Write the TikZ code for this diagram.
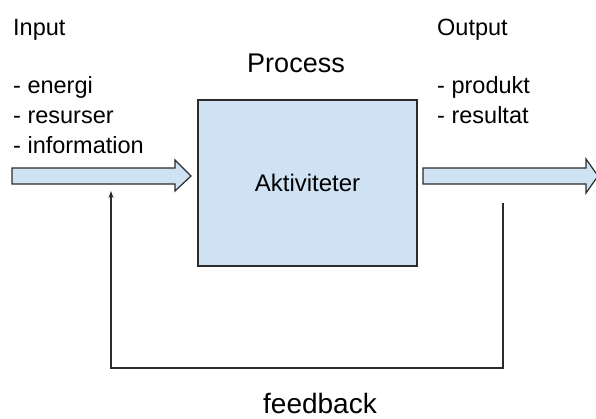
\documentclass[tikz,border=0pt]{standalone}
\usepackage{fontspec}
\setmainfont{Liberation Sans}
\usepackage{tikz}
\usetikzlibrary{positioning, arrows.meta}

\definecolor{boxblue}{HTML}{CFE2F3}
\definecolor{edge}{HTML}{2B2B2B}

\begin{document}
\begin{tikzpicture}[
    x=1pt, y=-1pt,
    txt/.style={inner sep=0pt, anchor=base west, font=\fontsize{23.5}{30}\selectfont, align=left},
    procbox/.style={draw=edge, line width=1.2pt, fill=boxblue, minimum width=219pt, minimum height=166pt, font=\fontsize{24}{28}\selectfont},
    bigarrow/.style={draw=edge, line width=1.2pt, fill=boxblue, line join=miter},
    fbline/.style={draw=edge, line width=1.3pt, -{Stealth[length=7pt, width=5pt]}},
    >=stealth
  ]
    \useasboundingbox (0,0) rectangle (596,418);
    \node[procbox] (proc) at (307.5,183) {Aktiviteter};
    \node[inner sep=0pt, anchor=base, font=\fontsize{27}{30}\selectfont] (title) at (296,72) {Process};
    \node[txt] (input) at (13,35) {Input};
    \node[txt] (inlist) at (13,153) {- energi\\- resurser\\- information};
    \node[txt] (output) at (437,35) {Output};
    \node[txt] (outlist) at (437,123) {- produkt\\- resultat};
    \node[inner sep=0pt, anchor=base, font=\fontsize{28}{30}\selectfont] (fb) at (320,413) {feedback};
    % the two wide arrows
    \draw[bigarrow] (12,168) -- (175,168) -- (175,160) -- (191,176) -- (175,191)
      -- (175,184) -- (12,184) -- cycle;
    \draw[bigarrow] (423,168) -- (586,168) -- (586,159) -- (598,176) -- (586,193)
      -- (586,184) -- (423,184) -- cycle;
    \coordinate (fbfrom) at (503,203);
    \coordinate (fbcorner) at (503,368);
    \coordinate (fbto) at (111,191);
    \draw[fbline] (fbfrom) -- (fbcorner) -| (fbto);
  \end{tikzpicture}
\end{document}
